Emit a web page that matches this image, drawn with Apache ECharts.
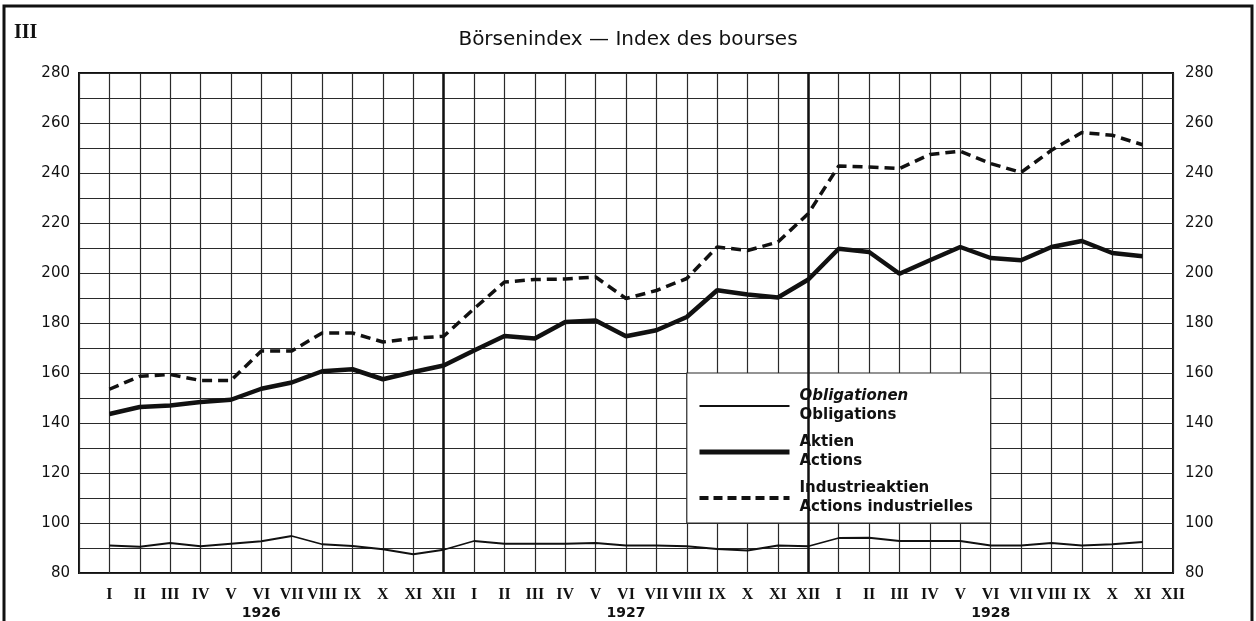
<!DOCTYPE html>
<html>
<head>
<meta charset="utf-8">
<title>Börsenindex — Index des bourses</title>
<script src="https://cdn.jsdelivr.net/npm/echarts@6/dist/echarts.min.js"></script>
<style>
html, body { margin: 0; padding: 0; background: #fff; }
#chart { width: 1256px; height: 621px; }
</style>
</head>
<body>
<div id="chart"></div>
<script>
// Monate / Jahre
const months = ['I', 'II', 'III', 'IV', 'V', 'VI', 'VII', 'VIII', 'IX', 'X', 'XI', 'XII']
const years = ['1926', '1927', '1928']
const startCategory = 'XII 1925'

// Werte (Jan 1926 - Nov 1928)
const obligationen = [
  91, 90.5, 92, 90.7, 91.7, 92.7, 94.8, 91.5, 90.8, 89.5, 87.5, 89.3,
  92.8, 91.7, 91.7, 91.7, 92, 91, 91, 90.7, 89.6, 89, 91, 90.7,
  94, 94.1, 92.8, 92.8, 92.8, 91, 91, 92, 91, 91.5, 92.4
]
const aktien = [
  143.6, 146.4, 147, 148.4, 149.3, 153.7, 156.2, 160.7, 161.5, 157.5, 160.4, 163,
  169, 174.8, 173.8, 180.4, 181, 174.7, 177.1, 182.4, 193.1, 191.4, 190.2, 197.4,
  209.7, 208.4, 199.7, 205.1, 210.4, 206, 205.1, 210.4, 212.8, 208, 206.7
]
const industrieaktien = [
  153.5, 158.7, 159.4, 157, 157, 168.8, 168.8, 176, 176, 172.4, 173.9, 174.7,
  185.7, 196.4, 197.4, 197.6, 198.4, 189.8, 193, 197.8, 210.4, 209, 212.4, 223.8,
  242.8, 242.4, 241.8, 247.4, 248.7, 243.8, 240.2, 249.1, 256.2, 255.1, 251.3
]

const seriesNames = ['Obligationen', 'Aktien', 'Industrieaktien']
const frenchNames = ['Obligations', 'Actions', 'Actions industrielles']

const yMin = 80
const yMax = 280
const yStep = 20

const categories = [startCategory]
years.forEach(y => months.forEach(m => categories.push(m + ' ' + y)))

const pad = arr => ['-'].concat(arr)

const gridColor = '#2a2a2a'
const dash = [10, 6]
const widths = [1.8, 4.5, 3.5]

const chart = echarts.init(document.getElementById('chart'))

const valueAxis = (pos) => ({
  type: 'value',
  position: pos,
  min: yMin,
  max: yMax,
  interval: yStep,
  axisLine: { show: false },
  axisTick: { show: false },
  axisLabel: {
    margin: pos === 'left' ? 9 : 12,
    fontFamily: 'DejaVu Sans',
    fontSize: 15,
    color: '#111'
  },
  splitLine: pos === 'left'
    ? { show: true, lineStyle: { color: gridColor, width: 1.2 } }
    : { show: false },
  minorTick: { show: false, splitNumber: 2 },
  minorSplitLine: pos === 'left'
    ? { show: true, lineStyle: { color: gridColor, width: 1.2 } }
    : { show: false }
})

const option = {
  backgroundColor: '#fff',
  animation: false,
  title: [
    {
      text: 'Börsenindex — Index des bourses',
      left: 'center',
      top: 25,
      textStyle: { fontFamily: 'DejaVu Sans', fontSize: 20, fontWeight: 'normal', color: '#111' }
    },
    {
      text: 'III',
      left: 9,
      top: 18,
      textStyle: { fontFamily: 'Liberation Serif', fontSize: 20, fontWeight: 'bold', color: '#111' }
    }
  ],
  graphic: [
    {
      type: 'rect',
      shape: { x: 4, y: 6, width: 1248, height: 640 },
      style: { fill: 'none', stroke: '#111', lineWidth: 3 },
      silent: true
    }
  ],
  grid: {
    left: 79,
    top: 73,
    width: 1094,
    height: 500,
    show: true,
    borderColor: '#111',
    borderWidth: 2,
    backgroundColor: 'transparent'
  },
  legend: {
    orient: 'vertical',
    left: 697,
    top: 389,
    padding: 0,
    itemWidth: 90,
    itemHeight: 14,
    itemGap: 12,
    itemStyle: { opacity: 0 },
    data: [
      { name: seriesNames[0], lineStyle: { color: '#111', width: 2, type: 'solid' } },
      { name: seriesNames[1], lineStyle: { color: '#111', width: 5, type: 'solid' } },
      { name: seriesNames[2], lineStyle: { color: '#111', width: 4, type: [9, 5] } }
    ],
    formatter: name => {
      const i = seriesNames.indexOf(name)
      const first = i === 0 ? '{it|' + name + '}' : '{n|' + name + '}'
      return first + '\n{n|' + frenchNames[i] + '}'
    },
    textStyle: {
      padding: [0, 0, 0, 5],
      rich: {
        n: { fontFamily: 'DejaVu Sans', fontSize: 15, fontWeight: 'bold', color: '#111', lineHeight: 19 },
        it: { fontFamily: 'DejaVu Sans', fontSize: 15, fontWeight: 'bold', fontStyle: 'italic', color: '#111', lineHeight: 19 }
      }
    }
  },
  xAxis: {
    type: 'category',
    data: categories,
    boundaryGap: false,
    axisLine: { show: false },
    axisTick: { show: false },
    splitLine: { show: true, interval: 0, lineStyle: { color: gridColor, width: 1.2 } },
    axisLabel: {
      interval: 0,
      margin: 12,
      formatter: (val, idx) => {
        if (idx === 0) return ''
        const [m, y] = val.split(' ')
        if (m === 'VI') return '{r|' + m + '}\n{y|' + y + '}'
        return '{r|' + m + '}'
      },
      rich: {
        r: { fontFamily: 'Liberation Serif', fontSize: 16, fontWeight: 'bold', color: '#111', lineHeight: 19 },
        y: { fontFamily: 'DejaVu Sans', fontSize: 14, fontWeight: 'bold', color: '#111', lineHeight: 18 }
      }
    }
  },
  yAxis: [valueAxis('left'), valueAxis('right')],
  series: [
    {
      name: seriesNames[0],
      type: 'line',
      data: pad(obligationen),
      symbol: 'none',
      lineStyle: { color: '#111', width: widths[0] },
      itemStyle: { color: '#111' },
      markLine: {
        silent: true,
        symbol: 'none',
        label: { show: false },
        lineStyle: { color: '#111', width: 2.5, type: 'solid' },
        data: [{ xAxis: 'XII 1926' }, { xAxis: 'XII 1927' }]
      }
    },
    {
      name: seriesNames[1],
      type: 'line',
      data: pad(aktien),
      symbol: 'none',
      lineStyle: { color: '#111', width: widths[1] },
      itemStyle: { color: '#111' }
    },
    {
      name: seriesNames[2],
      type: 'line',
      data: pad(industrieaktien),
      symbol: 'none',
      lineStyle: { color: '#111', width: widths[2], type: dash },
      itemStyle: { color: '#111' },
      markArea: {
        silent: true,
        itemStyle: { color: '#fff', borderColor: gridColor, borderWidth: 1.2 },
        data: [[{ xAxis: 'VIII 1927', yAxis: 160 }, { xAxis: 'VI 1928', yAxis: 100 }]]
      }
    }
  ]
}

chart.setOption(option)
</script>
</body>
</html>
